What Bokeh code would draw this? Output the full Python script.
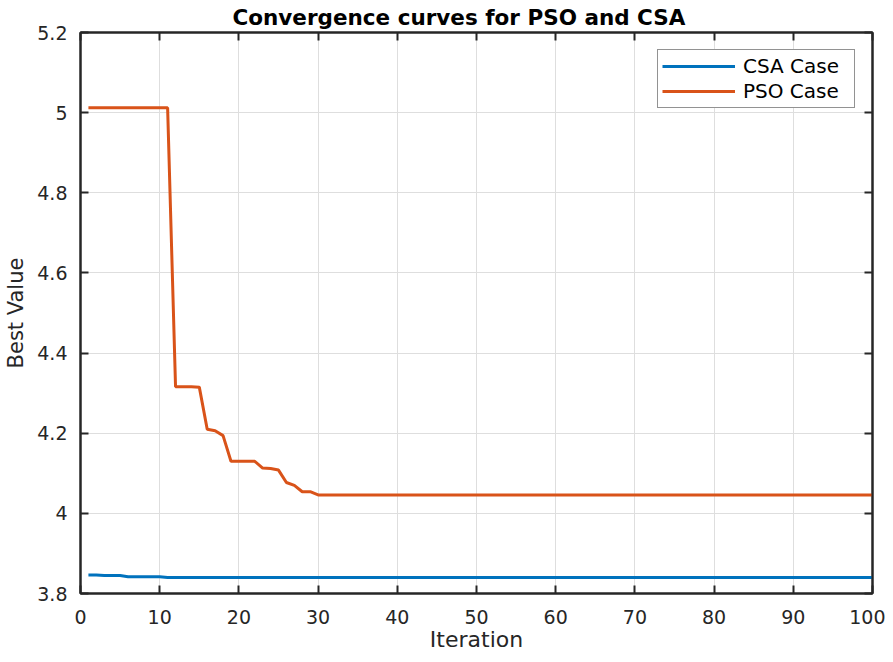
from bokeh.plotting import figure
from bokeh.models import ColumnDataSource, LinearAxis, FixedTicker, Legend, LegendItem, Range1d
from bokeh.embed import file_html
from bokeh.resources import INLINE

title_text = "Convergence curves for PSO and CSA"
x_label = "Iteration"
y_label = "Best Value"

iterations = list(range(1, 101))
csa_values = [
    3.846, 3.846, 3.845, 3.845, 3.845, 3.842, 3.842, 3.842, 3.842, 3.842,
    3.840, 3.840, 3.840, 3.840, 3.840, 3.840, 3.840, 3.840, 3.840, 3.840,
    3.840, 3.840, 3.840, 3.840, 3.840, 3.840, 3.840, 3.840, 3.840, 3.840,
    3.840, 3.840, 3.840, 3.840, 3.840, 3.840, 3.840, 3.840, 3.840, 3.840,
    3.840, 3.840, 3.840, 3.840, 3.840, 3.840, 3.840, 3.840, 3.840, 3.840,
    3.840, 3.840, 3.840, 3.840, 3.840, 3.840, 3.840, 3.840, 3.840, 3.840,
    3.840, 3.840, 3.840, 3.840, 3.840, 3.840, 3.840, 3.840, 3.840, 3.840,
    3.840, 3.840, 3.840, 3.840, 3.840, 3.840, 3.840, 3.840, 3.840, 3.840,
    3.840, 3.840, 3.840, 3.840, 3.840, 3.840, 3.840, 3.840, 3.840, 3.840,
    3.840, 3.840, 3.840, 3.840, 3.840, 3.840, 3.840, 3.840, 3.840, 3.840,
]
pso_values = [
    5.012, 5.012, 5.012, 5.012, 5.012, 5.012, 5.012, 5.012, 5.012, 5.012,
    5.012, 4.316, 4.316, 4.316, 4.315, 4.210, 4.206, 4.194, 4.130, 4.130,
    4.130, 4.130, 4.113, 4.112, 4.108, 4.077, 4.070, 4.054, 4.054, 4.046,
    4.046, 4.046, 4.046, 4.046, 4.046, 4.046, 4.046, 4.046, 4.046, 4.046,
    4.046, 4.046, 4.046, 4.046, 4.046, 4.046, 4.046, 4.046, 4.046, 4.046,
    4.046, 4.046, 4.046, 4.046, 4.046, 4.046, 4.046, 4.046, 4.046, 4.046,
    4.046, 4.046, 4.046, 4.046, 4.046, 4.046, 4.046, 4.046, 4.046, 4.046,
    4.046, 4.046, 4.046, 4.046, 4.046, 4.046, 4.046, 4.046, 4.046, 4.046,
    4.046, 4.046, 4.046, 4.046, 4.046, 4.046, 4.046, 4.046, 4.046, 4.046,
    4.046, 4.046, 4.046, 4.046, 4.046, 4.046, 4.046, 4.046, 4.046, 4.046,
]
series_names = ["CSA Case", "PSO Case"]
series_colors = ["#0072BD", "#D95319"]

x_ticks = [0, 10, 20, 30, 40, 50, 60, 70, 80, 90, 100]
x_tick_labels = ["0", "10", "20", "30", "40", "50", "60", "70", "80", "90", "100"]
y_ticks = [3.8, 4.0, 4.2, 4.4, 4.6, 4.8, 5.0, 5.2]
y_tick_labels = ["3.8", "4", "4.2", "4.4", "4.6", "4.8", "5", "5.2"]

FONT = "DejaVu Sans"
AX = "#262626"

source = ColumnDataSource(dict(x=iterations, csa=csa_values, pso=pso_values))

p = figure(width=885, height=654, output_backend="svg", toolbar_location=None,
           x_range=Range1d(0, 100), y_range=Range1d(3.8, 5.2),
           x_axis_location=None, y_axis_location=None,
           min_border_left=80, min_border_right=13, min_border_top=32, min_border_bottom=60)
p.background_fill_color = "white"
p.border_fill_color = "white"
p.outline_line_color = AX
p.outline_line_width = 2

p.title.text = title_text
p.title.text_font = FONT
p.title.text_font_style = "bold"
p.title.text_font_size = "21.5px"
p.title.align = "left"
p.title.offset = 152
p.title.text_color = "black"
p.title.standoff = 5

xt = FixedTicker(ticks=x_ticks)
yt = FixedTicker(ticks=y_ticks)

def style_axis(ax):
    ax.axis_line_color = AX
    ax.axis_line_width = 2
    ax.major_tick_line_color = AX
    ax.major_tick_line_width = 2
    ax.major_tick_in = 8
    ax.major_tick_out = 0
    ax.minor_tick_line_color = None
    ax.major_label_text_font = FONT
    ax.major_label_text_color = AX
    ax.axis_label_text_font = FONT
    ax.axis_label_text_font_style = "normal"
    ax.axis_label_text_color = AX

bottom = LinearAxis(ticker=xt, axis_label=x_label,
                    major_label_overrides={t: l for t, l in zip(x_ticks, x_tick_labels)})
style_axis(bottom)
bottom.major_label_text_font_size = "19px"
bottom.axis_label_text_font_size = "22px"
bottom.major_label_standoff = 16
bottom.axis_label_standoff = 0
p.add_layout(bottom, "below")

left = LinearAxis(ticker=yt, axis_label=y_label,
                  major_label_overrides={t: l for t, l in zip(y_ticks, y_tick_labels)})
style_axis(left)
left.major_label_text_font_size = "19px"
left.axis_label_text_font_size = "21px"
left.major_label_standoff = 13
left.axis_label_standoff = 6
p.add_layout(left, "left")

top = LinearAxis(ticker=xt, major_label_overrides={t: "" for t in x_ticks})
style_axis(top)
top.major_label_standoff = 0
p.add_layout(top, "above")
right = LinearAxis(ticker=yt, major_label_overrides={t: "" for t in y_ticks})
style_axis(right)
right.major_label_standoff = 0
p.add_layout(right, "right")

p.xgrid.ticker = xt
p.ygrid.ticker = yt
p.xgrid.grid_line_color = "#dedede"
p.ygrid.grid_line_color = "#dedede"
p.xgrid.grid_line_width = 1
p.ygrid.grid_line_width = 1

r_csa = p.line("x", "csa", source=source, line_color=series_colors[0], line_width=3)
r_pso = p.line("x", "pso", source=source, line_color=series_colors[1], line_width=3)

legend = Legend(items=[LegendItem(label=series_names[0], renderers=[r_csa]),
                       LegendItem(label=series_names[1], renderers=[r_pso])],
                location="top_right")
legend.margin = 17
legend.padding = 4
legend.spacing = 1
legend.label_text_font = FONT
legend.label_text_font_size = "20px"
legend.label_text_color = "black"
legend.glyph_width = 73
legend.glyph_height = 22
legend.label_standoff = 8
legend.label_width = 107
legend.label_height = 22
legend.border_line_color = "#262626"
legend.border_line_width = 1
legend.background_fill_color = "white"
legend.background_fill_alpha = 1
p.add_layout(legend)

open("out.html", "w").write(file_html(p, INLINE))
